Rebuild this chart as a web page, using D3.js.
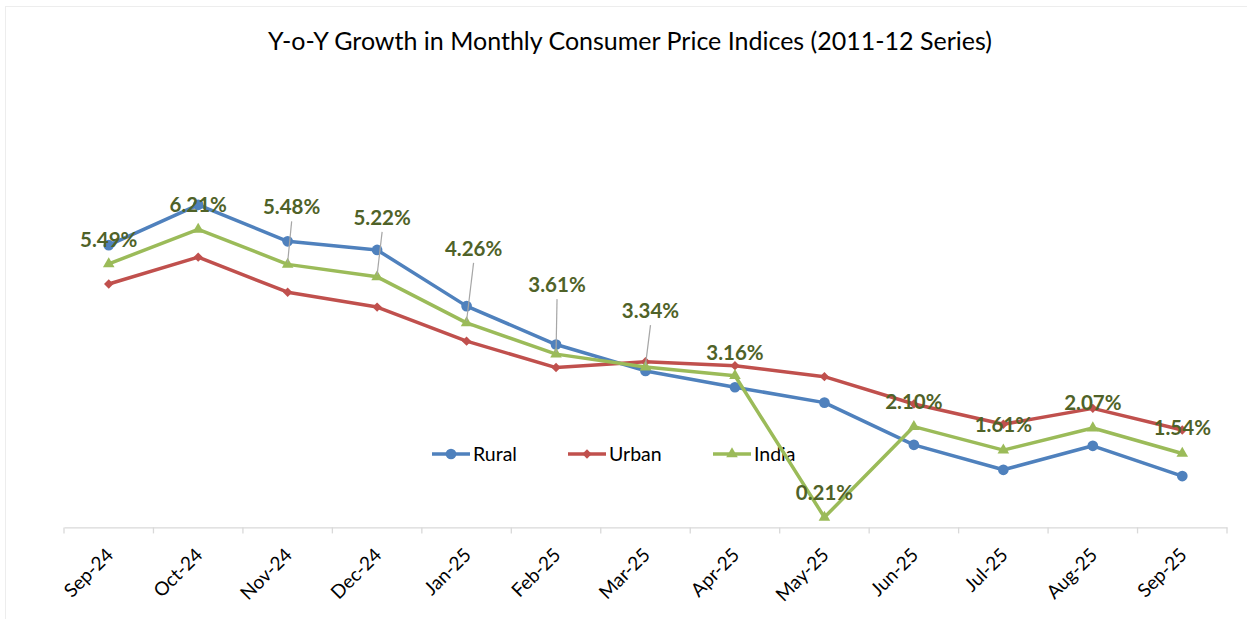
<!DOCTYPE html>
<html>
<head>
<meta charset="utf-8">
<script src="https://cdn.jsdelivr.net/npm/d3@7"></script>
<style>
  html, body { margin: 0; padding: 0; background: #ffffff; }
  svg { display: block; }
  text { font-family: Lato, "Open Sans", sans-serif; }
</style>
</head>
<body>
<svg id="chart" width="1247" height="619"></svg>
<script>
// ---- Data ----
const categories = ["Sep-24","Oct-24","Nov-24","Dec-24","Jan-25","Feb-25","Mar-25","Apr-25","May-25","Jun-25","Jul-25","Aug-25","Sep-25"];
const rural = [5.88, 6.72, 5.96, 5.78, 4.61, 3.81, 3.26, 2.92, 2.60, 1.72, 1.20, 1.70, 1.07];
const urban = [5.07, 5.63, 4.90, 4.59, 3.88, 3.33, 3.45, 3.37, 3.14, 2.57, 2.15, 2.48, 2.03];
const india = [5.49, 6.21, 5.48, 5.22, 4.26, 3.61, 3.34, 3.16, 0.21, 2.10, 1.61, 2.07, 1.54];
const seriesNames = ["Rural", "Urban", "India"];
const titleText = "Y-o-Y Growth in Monthly Consumer Price Indices (2011-12 Series)";

// ---- Layout (label placement offsets for India data labels, in px) ----
const labelDx = [0, 0, 4, 5, 7, 1, 5, 0, 0, 0, 0, 0, 0];
const labelDy = [-17, -17, -50, -52, -67, -62, -49, -16, -17, -18, -18, -18, -18];

const colors = { Rural: "#4F81BD", Urban: "#C0504D", India: "#9BBB59" };
const seriesData = { Rural: rural, Urban: urban, India: india };

const svg = d3.select("#chart");

// frame
svg.append("rect").attr("x", 5.5).attr("y", 6.5).attr("width", 1260).attr("height", 630)
  .attr("fill", "#fff").attr("stroke", "#EDEDED").attr("stroke-width", 1);

// scales
const xBand = d3.scaleBand().domain(categories).range([64, 1227]).paddingInner(0).paddingOuter(0);
const xc = c => xBand(c) + xBand.bandwidth() / 2;
const y = d3.scaleLinear().domain([0, 8]).range([527.4, 143.4]);

// title
svg.append("text").attr("x", 630).attr("y", 50).attr("text-anchor", "middle")
  .attr("font-size", 25).attr("fill", "#000").text(titleText);

// x axis
const axisG = svg.append("g").attr("transform", `translate(0,${y(0)})`)
  .call(d3.axisBottom(xBand).tickSize(0).tickPadding(0));
axisG.select(".domain").attr("stroke", "#D9D9D9").attr("stroke-width", 1.3);
axisG.selectAll(".tick text")
  .attr("font-family", "Lato, sans-serif").attr("font-size", 19).attr("fill", "#000")
  .attr("text-anchor", "end")
  .attr("transform", "translate(1,24) rotate(-45)")
  .attr("dy", "0.35em");
// boundary tick marks
const bounds = categories.map(c => xBand(c)).concat([xBand.range()[1]]);
axisG.selectAll("line.bt").data(bounds).enter().append("line").attr("class", "bt")
  .attr("x1", d => d).attr("x2", d => d).attr("y1", 0).attr("y2", 6)
  .attr("stroke", "#D9D9D9").attr("stroke-width", 1.3);

// legend
const legendX = [432, 568, 713];
const lg = svg.append("g");
seriesNames.forEach((name, i) => {
  const g = lg.append("g").attr("transform", `translate(${legendX[i]},454)`);
  g.append("line").attr("x1", 0).attr("x2", 38).attr("y1", 0).attr("y2", 0)
    .attr("stroke", colors[name]).attr("stroke-width", 3.4);
  g.append("path").attr("transform", "translate(19,0)" + (name === "Urban" ? " rotate(45)" : ""))
    .attr("d", markerPath(name)).attr("fill", colors[name]);
  g.append("text").attr("x", 41).attr("y", 7).attr("font-size", 19.5).attr("fill", "#000").text(name);
});

function markerPath(name) {
  if (name === "Rural") return d3.symbol(d3.symbolCircle, 90)();
  if (name === "Urban") return d3.symbol(d3.symbolSquare, 44)();
  return d3.symbol(d3.symbolTriangle, 58)();
}

// lines
const line = d3.line().x((d, i) => xc(categories[i])).y(d => y(d));
seriesNames.forEach(name => {
  const vals = seriesData[name];
  const g = svg.append("g");
  g.append("path").attr("d", line(vals)).attr("fill", "none")
    .attr("stroke", colors[name]).attr("stroke-width", 3.5)
    .attr("stroke-linejoin", "round").attr("stroke-linecap", "round");
  g.selectAll("path.m").data(vals).enter().append("path").attr("class", "m")
    .attr("transform", (d, i) => `translate(${xc(categories[i])},${y(d)})` + (name === "Urban" ? " rotate(45)" : ""))
    .attr("d", markerPath(name)).attr("fill", colors[name]);
});

// leader lines and data labels for India
const lab = svg.append("g");
india.forEach((v, i) => {
  const px = xc(categories[i]), py = y(v);
  const lx = px + labelDx[i], ly = py + labelDy[i];
  if (labelDy[i] < -30) {
    lab.append("line").attr("x1", lx).attr("y1", ly + 7).attr("x2", px).attr("y2", py - 2)
      .attr("stroke", "#A6A6A6").attr("stroke-width", 1.2);
  }
  lab.append("text").attr("x", lx).attr("y", ly).attr("text-anchor", "middle")
    .attr("font-size", 20.5).attr("font-weight", "bold").attr("fill", "#4F6228")
    .text(d3.format(".2f")(v) + "%");
});
</script>
</body>
</html>
